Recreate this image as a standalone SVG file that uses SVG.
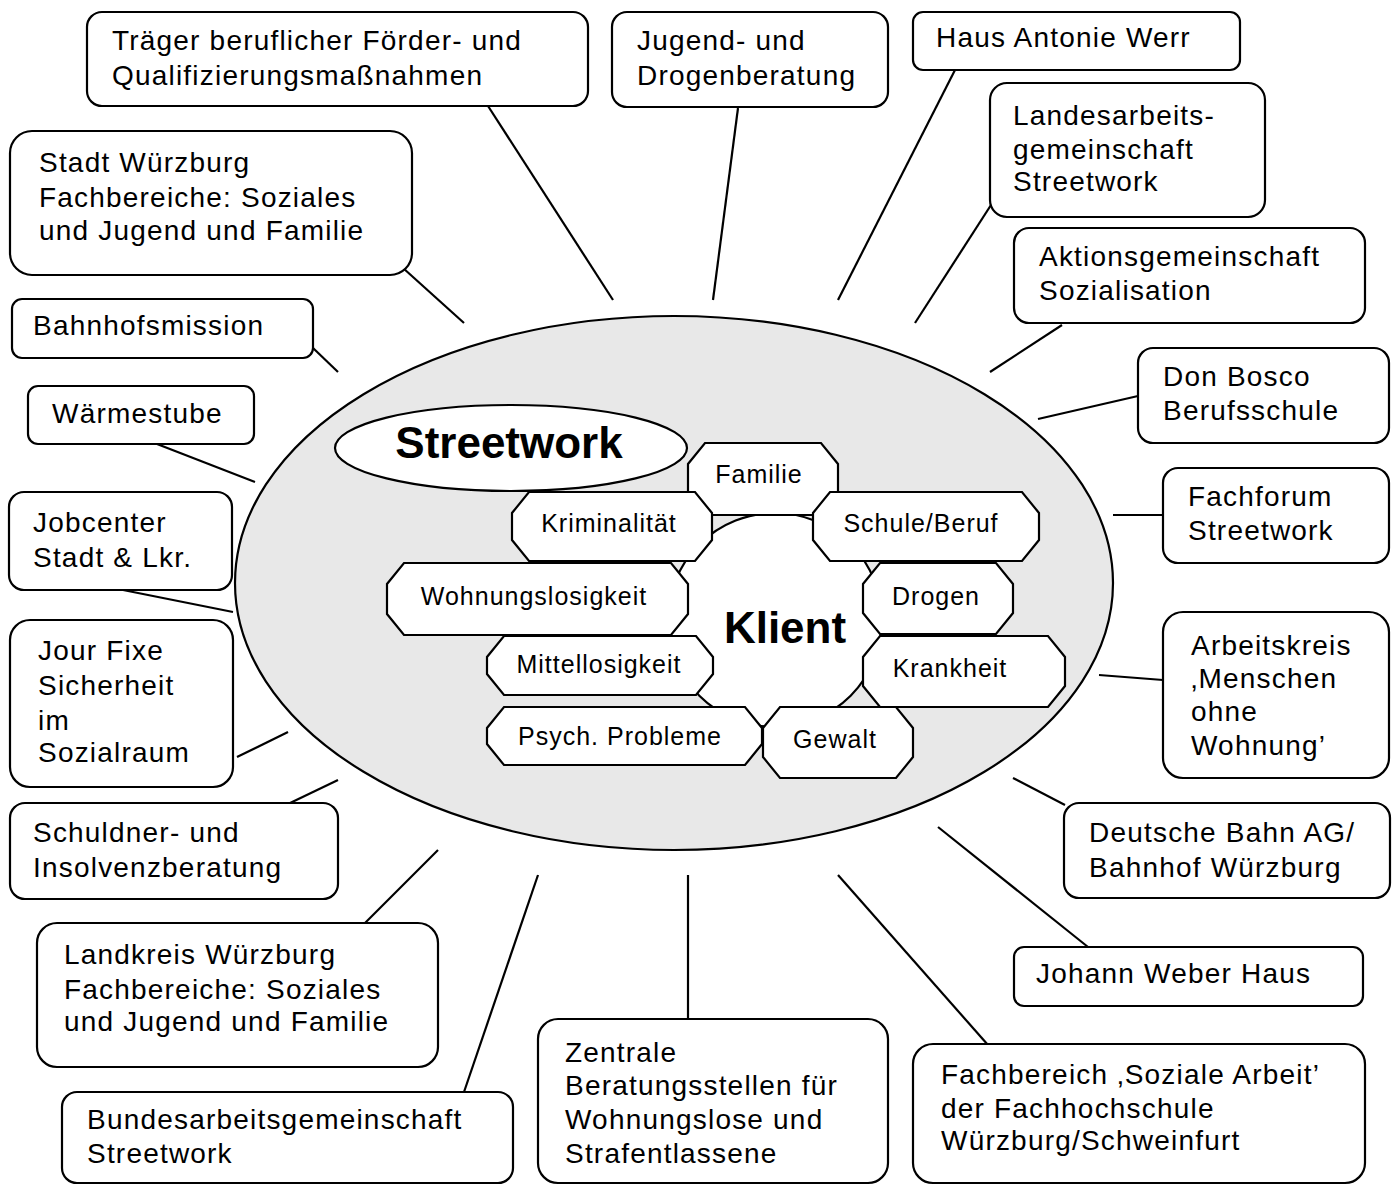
<svg xmlns="http://www.w3.org/2000/svg" width="1399" height="1185" viewBox="0 0 1399 1185">
<style>
.box{fill:#fff;stroke:#000;stroke-width:2.2}
.oct{fill:#fff;stroke:#000;stroke-width:2.2;stroke-linejoin:miter}
.t{font-family:"Liberation Sans",Arial,Helvetica,sans-serif;font-size:28px;letter-spacing:1.2px;fill:#000}
.o{font-family:"Liberation Sans",Arial,Helvetica,sans-serif;font-size:25px;letter-spacing:1px;fill:#000;text-anchor:middle}
.b{font-family:"Liberation Sans",Arial,Helvetica,sans-serif;font-weight:bold;font-size:44px;fill:#000;text-anchor:middle}
.c line{stroke:#000;stroke-width:2.2}
</style>
<rect width="1399" height="1185" fill="#fff"/>
<g id="connectors" class="c">
<line x1="488" y1="106" x2="613" y2="300"/>
<line x1="738" y1="108" x2="713" y2="300"/>
<line x1="955" y1="70" x2="838" y2="300"/>
<line x1="991" y1="205" x2="915" y2="323"/>
<line x1="1062" y1="325" x2="990" y2="372"/>
<line x1="1138" y1="396" x2="1038" y2="419"/>
<line x1="1113" y1="515" x2="1163" y2="515"/>
<line x1="1099" y1="675" x2="1163" y2="680"/>
<line x1="1013" y1="778" x2="1065" y2="805"/>
<line x1="938" y1="827" x2="1088" y2="947"/>
<line x1="838" y1="875" x2="988" y2="1045"/>
<line x1="688" y1="875" x2="688" y2="1020"/>
<line x1="538" y1="875" x2="464" y2="1092"/>
<line x1="438" y1="850" x2="364" y2="924"/>
<line x1="338" y1="780" x2="288" y2="804"/>
<line x1="288" y1="732" x2="237" y2="757"/>
<line x1="123" y1="590" x2="233" y2="612"/>
<line x1="157" y1="444" x2="255" y2="482"/>
<line x1="313" y1="348" x2="338" y2="372"/>
<line x1="403" y1="268" x2="464" y2="323"/>
</g>
<g id="streetwork-area">
<ellipse cx="674" cy="583" rx="439" ry="267" fill="#e8e8e8" stroke="#000" stroke-width="2.2"/>
</g>
<g id="streetwork">
<ellipse cx="511" cy="448" rx="176" ry="43" fill="#fff" stroke="#000" stroke-width="2.2"/>
<text class="b" x="509" y="458">Streetwork</text>
</g>
<g id="klient">
<circle cx="775" cy="620" r="107" fill="#fff" stroke="#000" stroke-width="2.2"/>
</g>
<g id="familie"><polygon class="oct" points="705,443 821,443 838,464 838,494 821,515 705,515 688,494 688,464"/><text class="o" x="759" y="483">Familie</text></g>
<g id="kriminalitaet"><polygon class="oct" points="529,492 695,492 712,513 712,540 695,561 529,561 512,540 512,513"/><text class="o" x="609" y="532">Kriminalität</text></g>
<g id="schule-beruf"><polygon class="oct" points="830,492 1022,492 1039,513 1039,540 1022,561 830,561 813,540 813,513"/><text class="o" x="921" y="532">Schule/Beruf</text></g>
<g id="wohnungslosigkeit"><polygon class="oct" points="404,563 671,563 688,584 688,614 671,635 404,635 387,614 387,584"/><text class="o" x="534" y="605">Wohnungslosigkeit</text></g>
<g id="drogen"><polygon class="oct" points="880,563 996,563 1013,584 1013,613 996,634 880,634 863,613 863,584"/><text class="o" x="936" y="605">Drogen</text></g>
<g id="mittellosigkeit"><polygon class="oct" points="504,636 696,636 713,657 713,674 696,695 504,695 487,674 487,657"/><text class="o" x="599" y="673">Mittellosigkeit</text></g>
<g id="krankheit"><polygon class="oct" points="880,636 1048,636 1065,657 1065,686 1048,707 880,707 863,686 863,657"/><text class="o" x="950" y="677">Krankheit</text></g>
<g id="psych-probleme"><polygon class="oct" points="504,707 745,707 762,728 762,744 745,765 504,765 487,744 487,728"/><text class="o" x="620" y="745">Psych. Probleme</text></g>
<g id="gewalt"><polygon class="oct" points="780,707 896,707 913,728 913,757 896,778 780,778 763,757 763,728"/><text class="o" x="835" y="748">Gewalt</text></g>
<g id="klient-label"><text class="b" x="785" y="643">Klient</text></g>

<g id="traeger"><rect class="box" x="87" y="12" width="501" height="94" rx="15"/><text class="t" x="112" y="50">Träger beruflicher Förder- und</text><text class="t" x="112" y="85">Qualifizierungsmaßnahmen</text></g>
<g id="jugend-drogenberatung"><rect class="box" x="612" y="12" width="276" height="95" rx="15"/><text class="t" x="637" y="50">Jugend- und</text><text class="t" x="637" y="85">Drogenberatung</text></g>
<g id="haus-antonie-werr"><rect class="box" x="913" y="12" width="327" height="58" rx="10"/><text class="t" x="936" y="47">Haus Antonie Werr</text></g>
<g id="landesarbeitsgemeinschaft"><rect class="box" x="990" y="83" width="275" height="134" rx="17"/><text class="t" x="1013" y="125">Landesarbeits-</text><text class="t" x="1013" y="159">gemeinschaft</text><text class="t" x="1013" y="191">Streetwork</text></g>
<g id="aktionsgemeinschaft"><rect class="box" x="1014" y="228" width="351" height="95" rx="15"/><text class="t" x="1039" y="266">Aktionsgemeinschaft</text><text class="t" x="1039" y="300">Sozialisation</text></g>
<g id="don-bosco"><rect class="box" x="1138" y="348" width="251" height="95" rx="15"/><text class="t" x="1163" y="386">Don Bosco</text><text class="t" x="1163" y="420">Berufsschule</text></g>
<g id="fachforum"><rect class="box" x="1163" y="468" width="226" height="95" rx="15"/><text class="t" x="1188" y="506">Fachforum</text><text class="t" x="1188" y="540">Streetwork</text></g>
<g id="arbeitskreis"><rect class="box" x="1163" y="612" width="226" height="166" rx="20"/><text class="t" x="1191" y="655">Arbeitskreis</text><text class="t" x="1191" y="688">‚Menschen</text><text class="t" x="1191" y="721">ohne</text><text class="t" x="1191" y="755">Wohnung’</text></g>
<g id="deutsche-bahn"><rect class="box" x="1064" y="803" width="326" height="95" rx="15"/><text class="t" x="1089" y="842">Deutsche Bahn AG/</text><text class="t" x="1089" y="877">Bahnhof Würzburg</text></g>
<g id="johann-weber-haus"><rect class="box" x="1014" y="947" width="349" height="59" rx="10"/><text class="t" x="1036" y="983">Johann Weber Haus</text></g>
<g id="fachbereich-soziale-arbeit"><rect class="box" x="913" y="1044" width="452" height="139" rx="20"/><text class="t" x="941" y="1084">Fachbereich ‚Soziale Arbeit’</text><text class="t" x="941" y="1118">der Fachhochschule</text><text class="t" x="941" y="1150">Würzburg/Schweinfurt</text></g>
<g id="zentrale-beratungsstellen"><rect class="box" x="538" y="1019" width="350" height="164" rx="20"/><text class="t" x="565" y="1062">Zentrale</text><text class="t" x="565" y="1095">Beratungsstellen für</text><text class="t" x="565" y="1129">Wohnungslose und</text><text class="t" x="565" y="1163">Strafentlassene</text></g>
<g id="bundesarbeitsgemeinschaft"><rect class="box" x="62" y="1092" width="451" height="91" rx="15"/><text class="t" x="87" y="1129">Bundesarbeitsgemeinschaft</text><text class="t" x="87" y="1163">Streetwork</text></g>
<g id="landkreis-wuerzburg"><rect class="box" x="37" y="923" width="401" height="144" rx="20"/><text class="t" x="64" y="964">Landkreis Würzburg</text><text class="t" x="64" y="999">Fachbereiche: Soziales</text><text class="t" x="64" y="1031">und Jugend und Familie</text></g>
<g id="schuldnerberatung"><rect class="box" x="10" y="803" width="328" height="96" rx="15"/><text class="t" x="33" y="842">Schuldner- und</text><text class="t" x="33" y="877">Insolvenzberatung</text></g>
<g id="jour-fixe"><rect class="box" x="10" y="620" width="223" height="167" rx="20"/><text class="t" x="38" y="660">Jour Fixe</text><text class="t" x="38" y="695">Sicherheit</text><text class="t" x="38" y="730">im</text><text class="t" x="38" y="762">Sozialraum</text></g>
<g id="jobcenter"><rect class="box" x="9" y="492" width="223" height="98" rx="15"/><text class="t" x="33" y="532">Jobcenter</text><text class="t" x="33" y="567">Stadt &amp; Lkr.</text></g>
<g id="waermestube"><rect class="box" x="28" y="386" width="226" height="58" rx="10"/><text class="t" x="52" y="423">Wärmestube</text></g>
<g id="bahnhofsmission"><rect class="box" x="12" y="299" width="301" height="59" rx="10"/><text class="t" x="33" y="335">Bahnhofsmission</text></g>
<g id="stadt-wuerzburg"><rect class="box" x="10" y="131" width="402" height="144" rx="22"/><text class="t" x="39" y="172">Stadt Würzburg</text><text class="t" x="39" y="207">Fachbereiche: Soziales</text><text class="t" x="39" y="240">und Jugend und Familie</text></g>
</svg>
